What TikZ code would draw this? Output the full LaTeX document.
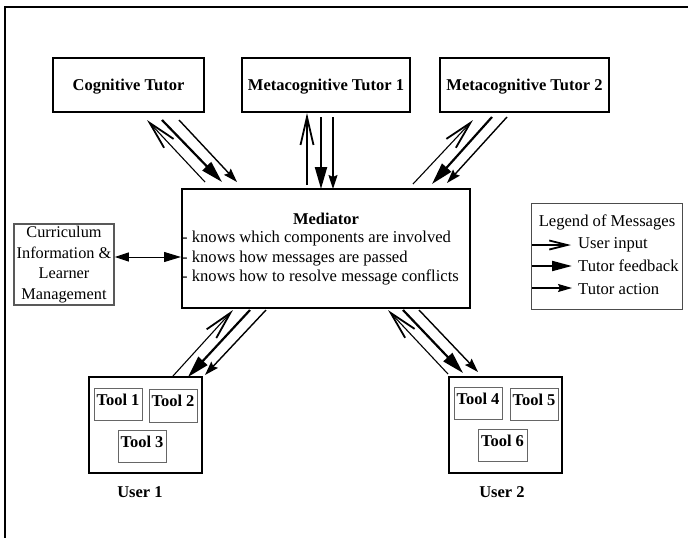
\documentclass[tikz,border=0pt]{standalone}
\usepackage{fontspec}
\setmainfont{Liberation Serif}
\usetikzlibrary{arrows.meta}
\begin{document}
\begin{tikzpicture}[x=1pt,y=-1pt,
  txt/.style={inner sep=0pt, font=\fontsize{16.6}{20}\selectfont},
  btxt/.style={inner sep=0pt, font=\fontsize{16.5}{20}\selectfont\bfseries},
  bigbox/.style={draw, line width=2pt, inner sep=0pt, text depth=0pt, font=\fontsize{16.5}{20}\selectfont\bfseries},
  toolbox/.style={draw=black!60, line width=1pt, inner sep=0pt},
  uin/.style={line width=1.1pt, -{Straight Barb[length=28pt,width=13pt,line width=1.8pt]}},
  fb/.style={line width=2.2pt, -{Triangle[length=22pt,width=12pt]}},
  act/.style={line width=1.4pt, -{Stealth[length=14pt,width=9pt,inset=2pt]}},
  luin/.style={line width=1.1pt, -{Straight Barb[length=18pt,width=9pt,line width=1.8pt]}},
  lfb/.style={line width=2pt, -{Triangle[length=20pt,width=10pt]}},
  lact/.style={line width=1.3pt, -{Stealth[length=14pt,width=8pt,inset=2pt]}}
]
\useasboundingbox (0,0) rectangle (688,538);
% frame lines
\coordinate (fr1) at (688,7);
\coordinate (fr2) at (5,7);
\coordinate (fr3) at (5,538);
\draw[line width=1.2pt] (fr1) -- (fr2) -- (fr3);

% tutor boxes
\node[bigbox, minimum width=151pt, minimum height=54pt] (cog) at (128.5,85) {Cognitive Tutor};
\node[bigbox, minimum width=168pt, minimum height=54pt] (meta1) at (326,85) {Metacognitive Tutor 1};
\node[bigbox, minimum width=169pt, minimum height=54pt] (meta2) at (524.5,85) {Metacognitive Tutor 2};

% mediator
\node[draw, line width=2pt, minimum width=288pt, minimum height=119pt, inner sep=0pt] (med) at (326,248.5) {};
\node[btxt] (medt) at (326,218.5) {Mediator};
\node[txt, anchor=west] (m1) at (182,238.5) {- knows which components are involved};
\node[txt, anchor=west] (m2) at (182,258.5) {- knows how messages are passed};
\node[txt, anchor=west] (m3) at (182,277.5) {- knows how to resolve message conflicts};

% curriculum
\node[draw=black!65, line width=1.5pt, minimum width=100pt, minimum height=81pt, inner sep=0pt,
      align=center, font=\fontsize{16.3}{20.5}\selectfont] (cur) at (64,264.5)
      {Curriculum\\Information \&\\Learner\\Management};

% legend
\node[draw=black!70, line width=1pt, minimum width=151pt, minimum height=106pt, inner sep=0pt] (leg) at (606.5,256) {};
\node[txt] (legt) at (607,222) {Legend of Messages};
\coordinate (l1a) at (532,245); \coordinate (l1b) at (571,245);
\coordinate (l2a) at (532,266); \coordinate (l2b) at (572,266);
\coordinate (l3a) at (532,288); \coordinate (l3b) at (572,288);
\draw[luin] (l1a) -- (l1b);
\draw[lfb] (l2a) -- (l2b);
\draw[lact] (l3a) -- (l3b);
\node[txt, anchor=west] (lt1) at (578,245) {User input};
\node[txt, anchor=west] (lt2) at (578,266) {Tutor feedback};
\node[txt, anchor=west] (lt3) at (578,289) {Tutor action};

% users
\node[draw, line width=2pt, minimum width=113pt, minimum height=96pt, inner sep=0pt] (u1) at (145.5,425) {};
\node[toolbox, minimum width=48pt, minimum height=32pt] (t1) at (118,404) {};
\node[toolbox, minimum width=48pt, minimum height=33pt] (t2) at (173,405.5) {};
\node[toolbox, minimum width=48pt, minimum height=32pt] (t3) at (142,446) {};
\node[btxt] (t1l) at (118,400) {Tool 1};
\node[btxt] (t2l) at (173,401) {Tool 2};
\node[btxt] (t3l) at (142,442) {Tool 3};
\node[btxt] (u1l) at (140,492) {User 1};

\node[draw, line width=2pt, minimum width=113pt, minimum height=96pt, inner sep=0pt] (u2) at (505.5,425) {};
\node[toolbox, minimum width=48pt, minimum height=32pt] (t4) at (478,403) {};
\node[toolbox, minimum width=48pt, minimum height=32pt] (t5) at (534,404) {};
\node[toolbox, minimum width=49pt, minimum height=32pt] (t6) at (502.5,445) {};
\node[btxt] (t4l) at (478,399) {Tool 4};
\node[btxt] (t5l) at (534,400) {Tool 5};
\node[btxt] (t6l) at (502.5,441) {Tool 6};
\node[btxt] (u2l) at (502,492) {User 2};

% curriculum <-> mediator
\draw[line width=1pt, {Triangle[length=14pt,width=9pt]}-{Triangle[length=17pt,width=10pt]}] (cur.east |- 0,257) coordinate (cm1) -- (med.west |- 0,257) coordinate (cm2);

% cognitive tutor arrows
\coordinate (cu1) at (205,182); \coordinate (cu2) at (147,120);
\coordinate (cf1) at (162,120); \coordinate (cf2) at (222,182);
\coordinate (ca1) at (179,120); \coordinate (ca2) at (237,182);
\draw[uin] (cu1) -- (cu2);
\draw[fb] (cf1) -- (cf2);
\draw[act] (ca1) -- (ca2);

% meta 1 arrows
\coordinate (mu1) at (307,185); \coordinate (mu2) at (307,113);
\coordinate (mf1) at (321,117); \coordinate (mf2) at (321,189);
\coordinate (ma1) at (333,117); \coordinate (ma2) at (333,189);
\draw[uin] (mu1) -- (mu2);
\draw[fb] (mf1) -- (mf2);
\draw[act] (ma1) -- (ma2);

% meta 2 arrows
\coordinate (nu1) at (413,184); \coordinate (nu2) at (473,120);
\coordinate (nf1) at (492,117); \coordinate (nf2) at (432,184);
\coordinate (na1) at (507,117); \coordinate (na2) at (447,183);
\draw[uin] (nu1) -- (nu2);
\draw[fb] (nf1) -- (nf2);
\draw[act] (na1) -- (na2);

% user 1 arrows
\coordinate (pu1) at (173,376); \coordinate (pu2) at (233,310);
\coordinate (pf1) at (250,310); \coordinate (pf2) at (188,377);
\coordinate (pa1) at (266,310); \coordinate (pa2) at (205,375);
\draw[uin] (pu1) -- (pu2);
\draw[fb] (pf1) -- (pf2);
\draw[act] (pa1) -- (pa2);

% user 2 arrows
\coordinate (qu1) at (448,374); \coordinate (qu2) at (388,310);
\coordinate (qf1) at (403,310); \coordinate (qf2) at (463,373);
\coordinate (qa1) at (419,310); \coordinate (qa2) at (478,372);
\draw[uin] (qu1) -- (qu2);
\draw[fb] (qf1) -- (qf2);
\draw[act] (qa1) -- (qa2);
\end{tikzpicture}
\end{document}
